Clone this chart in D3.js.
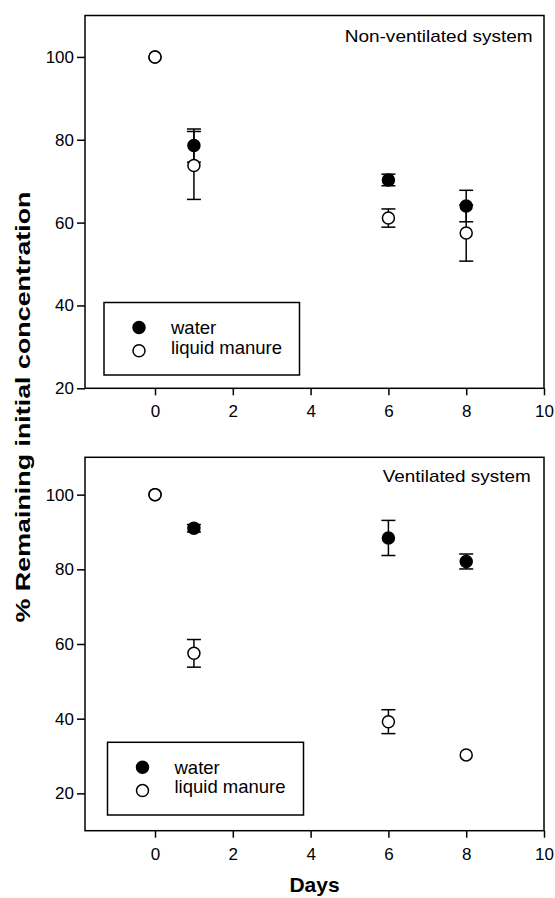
<!DOCTYPE html>
<html>
<head>
<meta charset="utf-8">
<script src="https://cdn.jsdelivr.net/npm/d3@7"></script>
<style>
  body { margin: 0; background: #fff; }
  svg text { font-family: "Liberation Sans", Arial, Helvetica, sans-serif; fill: #000; }
</style>
</head>
<body>
<div id="chart"></div>
<script>
// sampling days
var days = [0, 1, 6, 8];
var xTicks = [0, 2, 4, 6, 8, 10];
var yTicks = [20, 40, 60, 80, 100];

// non-ventilated system
var nonVentWater = [100, 78.6, 70.3, 64.0];
var nonVentWaterErr = [0, 4.0, 1.4, 3.8];
var nonVentManure = [100, 73.8, 61.1, 57.5];
var nonVentManureErr = [0, 8.2, 2.2, 6.8];

// ventilated system
var ventWater = [100, 91.0, 88.4, 82.1];
var ventWaterErr = [0, 1.0, 4.7, 2.0];
var ventManure = [100, 57.5, 39.2, 30.3];
var ventManureErr = [0, 3.7, 3.2, 0];

var seriesNames = ["water", "liquid manure"];

const w = 555;
const h = 898;
const left = 85, right = 544;

const svg = d3.select("#chart")
              .append("svg")
              .attr("width", w)
              .attr("height", h);

const xScale = d3.scaleLinear()
                 .domain([-1.8, 10])
                 .range([left, right]);

function drawPanel(cfg) {
  const yScale = d3.scaleLinear()
                   .domain(cfg.yDomain)
                   .range([cfg.bottom, cfg.top]);

  const g = svg.append("g");

  // frame
  g.append("rect")
   .attr("x", left)
   .attr("y", cfg.top)
   .attr("width", right - left)
   .attr("height", cfg.bottom - cfg.top)
   .attr("fill", "none")
   .attr("stroke", "#000")
   .attr("stroke-width", 1.5);

  const yAxis = g.append("g")
    .attr("transform", "translate(" + left + ",0)")
    .call(d3.axisLeft(yScale).tickValues(yTicks).tickSize(8).tickPadding(3));
  const xAxis = g.append("g")
    .attr("transform", "translate(0," + cfg.bottom + ")")
    .call(d3.axisBottom(xScale).tickValues(xTicks).tickSize(7).tickPadding(10));

  [xAxis, yAxis].forEach(function(a) {
    a.select(".domain").remove();
    a.selectAll("line").attr("stroke", "#000").attr("stroke-width", 1.5);
    a.selectAll("text").style("font-size", "17px").attr("fill", "#000");
  });

  // error bars first
  var series = [
    { vals: cfg.water, errs: cfg.waterErr, fill: "#000" },
    { vals: cfg.manure, errs: cfg.manureErr, fill: "#fff" }
  ];
  var cap = 7;
  series.forEach(function(s) {
    var pts = days.map(function(d, i) { return { x: d, y: s.vals[i], e: s.errs[i] }; })
                  .filter(function(p) { return p.e > 0; });
    var eb = g.append("g").attr("stroke", "#000").attr("stroke-width", 1.5);
    eb.selectAll(".v").data(pts).enter().append("line")
      .attr("x1", function(p) { return xScale(p.x); })
      .attr("x2", function(p) { return xScale(p.x); })
      .attr("y1", function(p) { return yScale(p.y + p.e); })
      .attr("y2", function(p) { return yScale(p.y - p.e); });
    eb.selectAll(".t").data(pts).enter().append("line")
      .attr("x1", function(p) { return xScale(p.x) - cap; })
      .attr("x2", function(p) { return xScale(p.x) + cap; })
      .attr("y1", function(p) { return yScale(p.y + p.e); })
      .attr("y2", function(p) { return yScale(p.y + p.e); });
    eb.selectAll(".b").data(pts).enter().append("line")
      .attr("x1", function(p) { return xScale(p.x) - cap; })
      .attr("x2", function(p) { return xScale(p.x) + cap; })
      .attr("y1", function(p) { return yScale(p.y - p.e); })
      .attr("y2", function(p) { return yScale(p.y - p.e); });
  });

  series.forEach(function(s) {
    g.append("g").selectAll("circle")
      .data(days.map(function(d, i) { return { x: d, y: s.vals[i] }; }))
      .enter()
      .append("circle")
      .attr("cx", function(p) { return xScale(p.x); })
      .attr("cy", function(p) { return yScale(p.y); })
      .attr("r", 6)
      .attr("fill", s.fill)
      .attr("stroke", "#000")
      .attr("stroke-width", 1.5);
  });

  // panel title
  g.append("text")
   .attr("x", cfg.titleX)
   .attr("y", cfg.titleY)
   .attr("text-anchor", "end")
   .style("font-size", "17px")
   .attr("textLength", cfg.titleLen)
   .attr("lengthAdjust", "spacingAndGlyphs")
   .text(cfg.title);

  // legend
  var lg = cfg.legend;
  g.append("rect")
   .attr("x", lg.x)
   .attr("y", lg.y)
   .attr("width", lg.w)
   .attr("height", lg.h)
   .attr("fill", "#fff")
   .attr("stroke", "#000")
   .attr("stroke-width", 1.5);
  seriesNames.forEach(function(name, i) {
    g.append("circle")
     .attr("cx", lg.x + 35)
     .attr("cy", lg.y + 25 + i * 23.3)
     .attr("r", 6)
     .attr("fill", i === 0 ? "#000" : "#fff")
     .attr("stroke", "#000")
     .attr("stroke-width", 1.5);
    g.append("text")
     .attr("x", lg.x + 67)
     .attr("y", lg.y + 31.5 + i * 19.5)
     .style("font-size", "18.5px")
     .text(name);
  });
}

drawPanel({
  top: 15.5, bottom: 388.3, yDomain: [20, 110],
  water: nonVentWater, waterErr: nonVentWaterErr,
  manure: nonVentManure, manureErr: nonVentManureErr,
  title: "Non-ventilated system", titleX: 532.7, titleY: 41.5, titleLen: 188,
  legend: { x: 104, y: 302.5, w: 195.5, h: 72.5 }
});

drawPanel({
  top: 457.3, bottom: 830.7, yDomain: [10, 110],
  water: ventWater, waterErr: ventWaterErr,
  manure: ventManure, manureErr: ventManureErr,
  title: "Ventilated system", titleX: 530.7, titleY: 481.5, titleLen: 148,
  legend: { x: 107.5, y: 742.3, w: 196, h: 72.7 }
});

// axis labels
svg.append("text")
   .attr("transform", "translate(29.5,407) rotate(-90)")
   .attr("text-anchor", "middle")
   .style("font-size", "20px")
   .style("font-weight", "bold")
   .attr("textLength", 431)
   .attr("lengthAdjust", "spacingAndGlyphs")
   .text("% Remaining initial concentration");

svg.append("text")
   .attr("x", (left + right) / 2)
   .attr("y", 892)
   .attr("text-anchor", "middle")
   .style("font-size", "21px")
   .style("font-weight", "bold")
   .text("Days");
</script>
</body>
</html>
